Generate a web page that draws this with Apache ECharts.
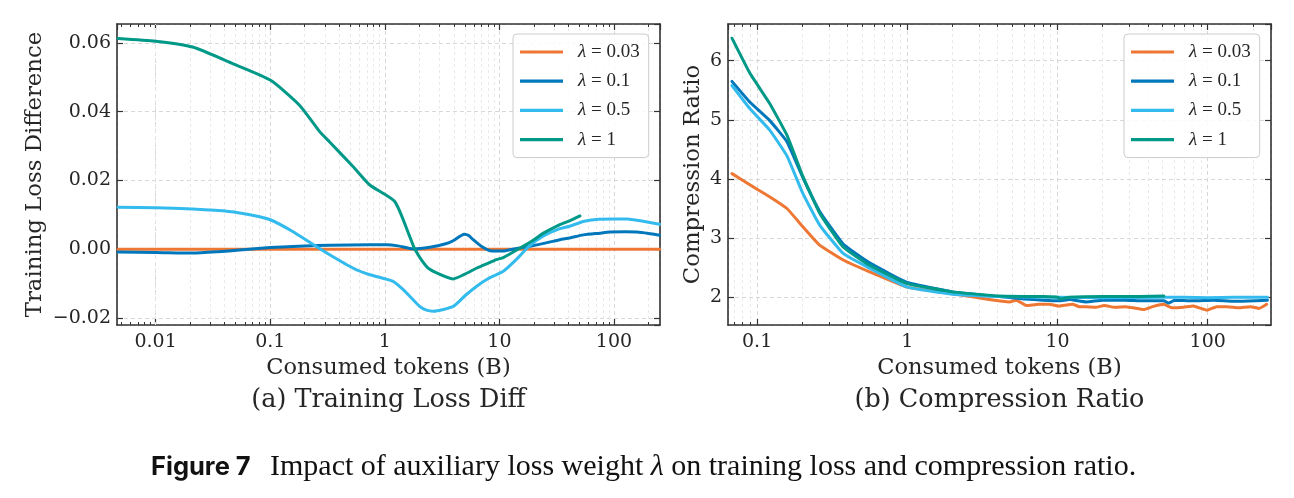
<!DOCTYPE html>
<html><head><meta charset="utf-8">
<script src="https://cdn.jsdelivr.net/npm/echarts@6/dist/echarts.min.js"></script>
<style>html,body{margin:0;padding:0;background:#fff}#c{width:1294px;height:498px}</style>
</head><body><div id="c"></div><script>
// ---------------- data ----------------
const lambdaLabels = ['0.03', '0.1', '0.5', '1'];
const seriesColors = ['#EE7733', '#0077BB', '#33BBEE', '#009988'];
const xTickValues = [0.01, 0.1, 1, 10, 100];
const lossTicks = [-0.02, 0, 0.02, 0.04, 0.06];
const ratioTicks = [2, 3, 4, 5, 6];

// (a) Training loss difference vs consumed tokens (B)
const lossDiff003 = [[0.0047,0],[0.01,0],[0.1,0],[1,0],[10,0],[100,0],[250,0]];
const lossDiff01 = [[0.0047,-0.0008],[0.01,-0.0009],[0.021,-0.0011],[0.035,-0.0007],[0.054,-0.0002],[0.1,0.0005],[0.2,0.0010],[0.33,0.0012],[0.74,0.0013],[1.03,0.0013],[1.3,0.0010],[1.77,0.0001],[2.47,0.0006],[3.4,0.0016],[3.95,0.0025],[4.93,0.0044],[5.4,0.0040],[5.9,0.0028],[7,0.0008],[8.3,-0.0004],[10.8,-0.0005],[13,0.0000],[18.5,0.0009],[25,0.0018],[33.7,0.0028],[41,0.0033],[54,0.0042],[75,0.0047],[92,0.0050],[125,0.0051],[158,0.0050],[200,0.0046],[250,0.0041]];
const lossDiff05 = [[0.0047,0.0122],[0.01,0.0121],[0.021,0.0117],[0.0435,0.0110],[0.07,0.0099],[0.1,0.0086],[0.157,0.0052],[0.237,0.0014],[0.33,-0.0016],[0.53,-0.0055],[0.74,-0.0074],[1.18,-0.0093],[1.5,-0.0122],[2.0,-0.0165],[2.31,-0.0177],[2.65,-0.0180],[3.95,-0.0166],[5.0,-0.0135],[6.3,-0.0108],[8.0,-0.0085],[10.8,-0.0064],[14,-0.0030],[18,0.0008],[24,0.0038],[33.7,0.0060],[41,0.0067],[54,0.0081],[70,0.0087],[98,0.0088],[130,0.0088],[170,0.0083],[250,0.0073]];
const lossDiff1 = [[0.0047,0.0613],[0.01,0.0605],[0.021,0.0588],[0.047,0.0540],[0.1,0.0492],[0.18,0.0419],[0.27,0.0342],[0.33,0.0312],[0.53,0.0240],[0.74,0.0187],[1.22,0.0139],[1.65,0.0037],[1.83,0.0000],[2.31,-0.0050],[2.8,-0.0068],[3.95,-0.0086],[5.0,-0.0072],[6.3,-0.0055],[8.0,-0.0040],[9.4,-0.0030],[10.8,-0.0024],[15,0.0003],[20,0.0028],[24.2,0.0047],[33.7,0.0072],[41,0.0083],[50.5,0.0097]];

// (b) Compression ratio vs consumed tokens (B)
const ratio003 = [[0.068,4.09],[0.0894,3.90],[0.121,3.70],[0.158,3.50],[0.202,3.19],[0.261,2.88],[0.374,2.63],[0.561,2.43],[1,2.17],[2,2.06],[3.5,1.96],[4.8,1.92],[5.3,1.95],[6.2,1.86],[7.5,1.88],[8.8,1.88],[10.3,1.85],[11.5,1.87],[12.6,1.88],[14,1.84],[15.5,1.84],[18,1.83],[20.5,1.86],[24,1.83],[28,1.84],[32,1.82],[37.5,1.79],[43,1.84],[51,1.88],[58,1.82],[69,1.83],[80,1.85],[99,1.78],[115,1.84],[135,1.84],[160,1.82],[193,1.84],[220,1.81],[247,1.88]];
const ratio01 = [[0.068,5.65],[0.0894,5.30],[0.121,4.99],[0.158,4.63],[0.202,4.02],[0.261,3.45],[0.374,2.90],[0.561,2.58],[1,2.25],[2,2.09],[4.1,2.01],[6,1.97],[8,1.95],[10.3,1.94],[12,1.96],[15.5,1.92],[20,1.95],[28,1.95],[37,1.94],[51,1.94],[55,1.90],[60,1.95],[80,1.94],[110,1.95],[150,1.93],[210,1.94],[250,1.95]];
const ratio05 = [[0.068,5.58],[0.0894,5.19],[0.121,4.83],[0.158,4.39],[0.202,3.75],[0.261,3.22],[0.374,2.74],[0.561,2.49],[1,2.17],[2,2.05],[4,2.01],[10,2.00],[20,1.99],[51,2.00],[70,2.00],[100,1.99],[150,2.00],[250,2.00]];
const ratio1 = [[0.068,6.38],[0.0894,5.79],[0.121,5.28],[0.158,4.74],[0.202,4.04],[0.261,3.42],[0.374,2.85],[0.561,2.54],[1,2.23],[2,2.09],[4.1,2.02],[8,2.01],[10,2.00],[10.5,1.97],[12,2.00],[20,2.01],[35,2.01],[51,2.02]];

// ---------------- chart ----------------
const lossSeries = [lossDiff003, lossDiff01, lossDiff05, lossDiff1];
const ratioSeries = [ratio003, ratio01, ratio05, ratio1];
const names = lambdaLabels.map(v => 'λ=' + v);
const SERIF = '"DejaVu Serif", serif';
const INK = '#262626';
const FRAME = '#333333';

const xL = [0.0046, 252];
const xR = [0.064, 264];
const yL = [-0.022, 0.0655];
const yR = [1.53, 6.62];

function minorValues(lo, hi) {
  const out = [];
  for (let e = -4; e <= 3; e++) for (let k = 2; k <= 9; k++) {
    const v = +(k * Math.pow(10, e)).toPrecision(3);
    if (v > lo && v < hi) out.push(v);
  }
  return out;
}
const fmtX = v => {
  const t = xTickValues.find(t => Math.abs(t - v) / t < 1e-6);
  return t === undefined ? '' : String(t);
};
const fmtLoss = v => {
  const t = lossTicks.find(t => Math.abs(t - v) < 1e-9);
  if (t === undefined) return '';
  return (t < 0 ? '\u2212' : '') + Math.abs(t).toFixed(2);
};
const fmtRatio = v => {
  const t = ratioTicks.find(t => Math.abs(t - v) < 1e-9);
  return t === undefined ? '' : String(t);
};

function xAxisPair(gridIndex, ext) {
  const common = {
    type: 'log', logBase: 10, gridIndex, min: ext[0], max: ext[1], z: 0,
    axisLine: { show: true, onZero: false, lineStyle: { color: FRAME, width: 1.6 } },
    axisTick: { show: true, inside: true, length: 6, lineStyle: { color: FRAME, width: 1.2 } },
    minorTick: { show: false }, minorSplitLine: { show: false }
  };
  return [
    Object.assign({}, common, {
      position: 'bottom',
      axisLabel: { show: true, formatter: fmtX, margin: 8, fontFamily: SERIF, fontSize: 19, color: INK,
                   showMinLabel: false, showMaxLabel: false },
      splitLine: { show: true, lineStyle: { color: '#d4d4d4', type: [4, 3], width: 0.9 } },
      name: 'Consumed tokens (B)', nameLocation: 'middle', nameGap: 27,
      nameTextStyle: { fontFamily: SERIF, fontSize: 22.5, color: INK }
    }),
    Object.assign({}, common, {
      position: 'top', axisLabel: { show: false }, splitLine: { show: false }
    })
  ];
}
function yAxisPair(gridIndex, ext, fmt, name, gap) {
  const common = {
    type: 'value', gridIndex, min: ext[0], max: ext[1], splitNumber: 5, z: 0,
    axisLine: { show: true, onZero: false, lineStyle: { color: FRAME, width: 1.6 } },
    axisTick: { show: true, inside: true, length: 6, lineStyle: { color: FRAME, width: 1.2 } }
  };
  return [
    Object.assign({}, common, {
      position: 'left',
      axisLabel: { show: true, formatter: fmt, margin: 6, fontFamily: SERIF, fontSize: 19, color: INK,
                   showMinLabel: false, showMaxLabel: false },
      splitLine: { show: true, lineStyle: { color: '#d4d4d4', type: [4, 3], width: 0.9 } },
      name, nameLocation: 'middle', nameGap: gap,
      nameTextStyle: { fontFamily: SERIF, fontSize: 22.8, color: INK }
    }),
    Object.assign({}, common, {
      position: 'right', axisLabel: { show: false }, splitLine: { show: false }
    })
  ];
}

const series = [];
function decoSeries(xi, yi, ext, yext) {
  const minors = minorValues(ext[0], ext[1]);
  const d = (yext[1] - yext[0]) * 3 / 301;
  // minor grid lines (below the curves)
  series.push({
    type: 'line', xAxisIndex: xi, yAxisIndex: yi, data: [], silent: true, z: 1,
    markLine: {
      z: 1, silent: true, symbol: ['none', 'none'], label: { show: false }, animation: false,
      lineStyle: { color: '#e4e4e4', type: [3, 3], width: 0.8 },
      data: minors.map(v => ({ xAxis: v }))
    }
  });
  // minor ticks (bottom & top, inward)
  const seg = [];
  minors.forEach(v => {
    seg.push([{ coord: [v, yext[0]] }, { coord: [v, yext[0] + d] }]);
    seg.push([{ coord: [v, yext[1]] }, { coord: [v, yext[1] - d] }]);
  });
  series.push({
    type: 'line', xAxisIndex: xi, yAxisIndex: yi, data: [], silent: true, z: 1,
    markLine: {
      z: 1, silent: true, symbol: ['none', 'none'], label: { show: false }, animation: false,
      lineStyle: { color: FRAME, type: 'solid', width: 1 }, data: seg
    }
  });
}
decoSeries(0, 0, xL, yL);
decoSeries(2, 2, xR, yR);

lossSeries.forEach((d, i) => series.push({
  name: names[i], type: 'line', xAxisIndex: 0, yAxisIndex: 0, data: d,
  showSymbol: false, symbol: 'none', smooth: 0.2,
  lineStyle: { color: seriesColors[i], width: 3, cap: 'round', join: 'round' },
  itemStyle: { color: seriesColors[i] }, z: 3
}));
// dashed zero reference line drawn on top of the flat curve
series.push({
  type: 'line', xAxisIndex: 0, yAxisIndex: 0, data: [], silent: true, z: 2,
  markLine: {
    z: 3, silent: true, symbol: ['none', 'none'], label: { show: false }, animation: false,
    lineStyle: { color: '#a0a0a0', type: [4, 3], width: 1 }, data: [{ yAxis: 0 }]
  }
});
ratioSeries.forEach((d, i) => series.push({
  name: names[i], type: 'line', xAxisIndex: 2, yAxisIndex: 2, data: d,
  showSymbol: false, symbol: 'none', smooth: 0.12,
  lineStyle: { color: seriesColors[i], width: 3, cap: 'round', join: 'round' },
  itemStyle: { color: seriesColors[i] }, z: 3
}));

function legendAt(left) {
  return {
    left, top: 34, orient: 'vertical', data: names, icon: 'rect', z: 10,
    itemWidth: 43, itemHeight: 3.2, itemGap: 9.2,
    padding: [8, 9, 8, 7],
    backgroundColor: 'rgba(255,255,255,0.85)', borderColor: '#cccccc', borderWidth: 1, borderRadius: 4,
    selectedMode: false,
    formatter: n => '{i|λ}{t| = ' + n.slice(2) + '}',
    textStyle: {
      padding: [0, 0, 0, 10], lineHeight: 20, color: INK,
      rich: {
        i: { fontFamily: '"Liberation Serif", serif', fontStyle: 'italic', fontSize: 19, color: INK },
        t: { fontFamily: '"Liberation Serif", serif', fontSize: 19, color: INK }
      }
    }
  };
}

const chart = echarts.init(document.getElementById('c'), null, { renderer: 'canvas' });
chart.setOption({
  animation: false,
  backgroundColor: '#ffffff',
  grid: [
    { left: 117, top: 24, width: 543, height: 301, containLabel: false },
    { left: 728, top: 24, width: 543, height: 301, containLabel: false }
  ],
  xAxis: [...xAxisPair(0, xL), ...xAxisPair(1, xR)],
  yAxis: [...yAxisPair(0, yL, fmtLoss, 'Training Loss Difference', 70),
          ...yAxisPair(1, yR, fmtRatio, 'Compression Ratio', 23)],
  legend: [legendAt(513), legendAt(1124)],
  series,
  graphic: [
    { type: 'text', style: { text: '(a) Training Loss Diff', x: 388.5, y: 400, align: 'center', verticalAlign: 'middle',
      fontFamily: SERIF, fontSize: 25.5, fill: INK } },
    { type: 'text', style: { text: '(b) Compression Ratio', x: 999.5, y: 400, align: 'center', verticalAlign: 'middle',
      fontFamily: SERIF, fontSize: 25.5, fill: INK } },
    { type: 'text', style: { text: 'Figure 7', x: 151, y: 467, align: 'left', verticalAlign: 'middle',
      fontFamily: 'Inter, sans-serif', fontWeight: 'bold', fontSize: 25.5, fill: '#111' } },
    { type: 'text', style: { text: '{r|Impact of auxiliary loss weight }{i|λ}{r| on training loss and compression ratio.}',
      x: 270, y: 467, align: 'left', verticalAlign: 'middle',
      rich: {
        r: { fontFamily: '"Liberation Serif", serif', fontSize: 30, fill: '#111' },
        i: { fontFamily: '"Liberation Serif", serif', fontStyle: 'italic', fontSize: 30, fill: '#111' }
      } } }
  ]
});
</script></body></html>
